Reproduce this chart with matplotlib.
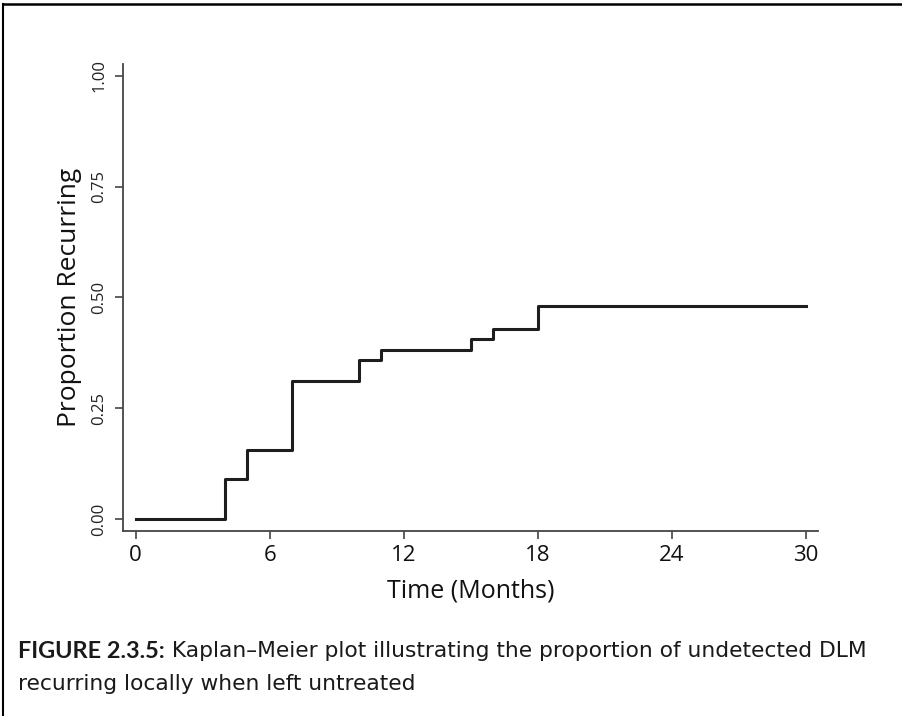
import matplotlib
matplotlib.use("Agg")
import matplotlib.pyplot as plt
from matplotlib.lines import Line2D

# Kaplan-Meier step data
months = [0, 4, 5, 7, 10, 11, 15, 16, 18, 30]
proportion = [0.0, 0.090, 0.156, 0.312, 0.358, 0.381, 0.406, 0.430, 0.481, 0.481]

x_ticks = [0, 6, 12, 18, 24, 30]
y_ticks = [0.0, 0.25, 0.50, 0.75, 1.00]
y_tick_labels = ["0.00", "0.25", "0.50", "0.75", "1.00"]

caption_bold = "FIGURE 2.3.5:"
caption_rest = " Kaplan\u2013Meier plot illustrating the proportion of undetected DLM"
caption_line2 = "recurring locally when left untreated"

W, H = 902, 716
fig = plt.figure(figsize=(W / 100, H / 100), dpi=100)

# axes placed so the spines sit where the reference draws them
ax = fig.add_axes([122.7 / W, 1 - 531 / H, (818 - 122.7) / W, (531 - 64) / H])
ax.step(months, proportion, where="post", color="#1e1e1e", linewidth=2.2)

ax.set_xlim(-0.58, 30.55)
ax.set_ylim(-0.027, 1.027)
ax.spines["top"].set_visible(False)
ax.spines["right"].set_visible(False)
for s in ("left", "bottom"):
    ax.spines[s].set_color("#444444")
    ax.spines[s].set_linewidth(1.3)

ax.set_xticks(x_ticks)
ax.set_xticklabels([str(t) for t in x_ticks], fontsize=16, family="Open Sans", color="#111111")
ax.set_yticks(y_ticks)
ax.set_yticklabels(y_tick_labels, fontsize=12, family="Open Sans", rotation=90,
                   va="center", color="#222222")
ax.tick_params(axis="both", length=6, width=1.2, color="#444444")
ax.tick_params(axis="x", pad=4)
ax.tick_params(axis="y", pad=5)

ax.set_xlabel("Time (Months)", fontsize=18, family="Open Sans", labelpad=9, color="#111111")
ax.set_ylabel("Proportion Recurring", fontsize=19, family="Open Sans", labelpad=7, color="#111111")

# frame: thick line on top and left, like the cropped box in the reference
fig.add_artist(Line2D([2.5 / W, 2.5 / W], [0, 1 - 4 / H], transform=fig.transFigure,
                      color="black", linewidth=1.5))
fig.add_artist(Line2D([2.5 / W, 1], [1 - 4 / H, 1 - 4 / H], transform=fig.transFigure,
                      color="black", linewidth=1.8))

# caption, sized so the first line ends where the reference's does
cap_size = 14
t1 = fig.text(18 / W, 1 - 651 / H, caption_bold, fontsize=cap_size * 1.08, fontweight="bold",
              family="Lato", color="#1a1a1a", va="center")
fig.canvas.draw()
bb = t1.get_window_extent()
t2 = fig.text(bb.x1 / W, 1 - 651 / H, caption_rest, fontsize=cap_size, family="DejaVu Sans",
              color="#1a1a1a", va="center")
fig.canvas.draw()
end = t2.get_window_extent().x1
scale = (868 - 18) / (end - 18)
cap_size = cap_size * scale
t1.set_fontsize(cap_size * 1.08)
fig.canvas.draw()
t2.set_x(t1.get_window_extent().x1 / W)
t2.set_fontsize(cap_size)
fig.text(18 / W, 1 - 684 / H, caption_line2, fontsize=cap_size, family="DejaVu Sans",
         color="#1a1a1a", va="center")

fig.savefig("out.png", dpi=100)
